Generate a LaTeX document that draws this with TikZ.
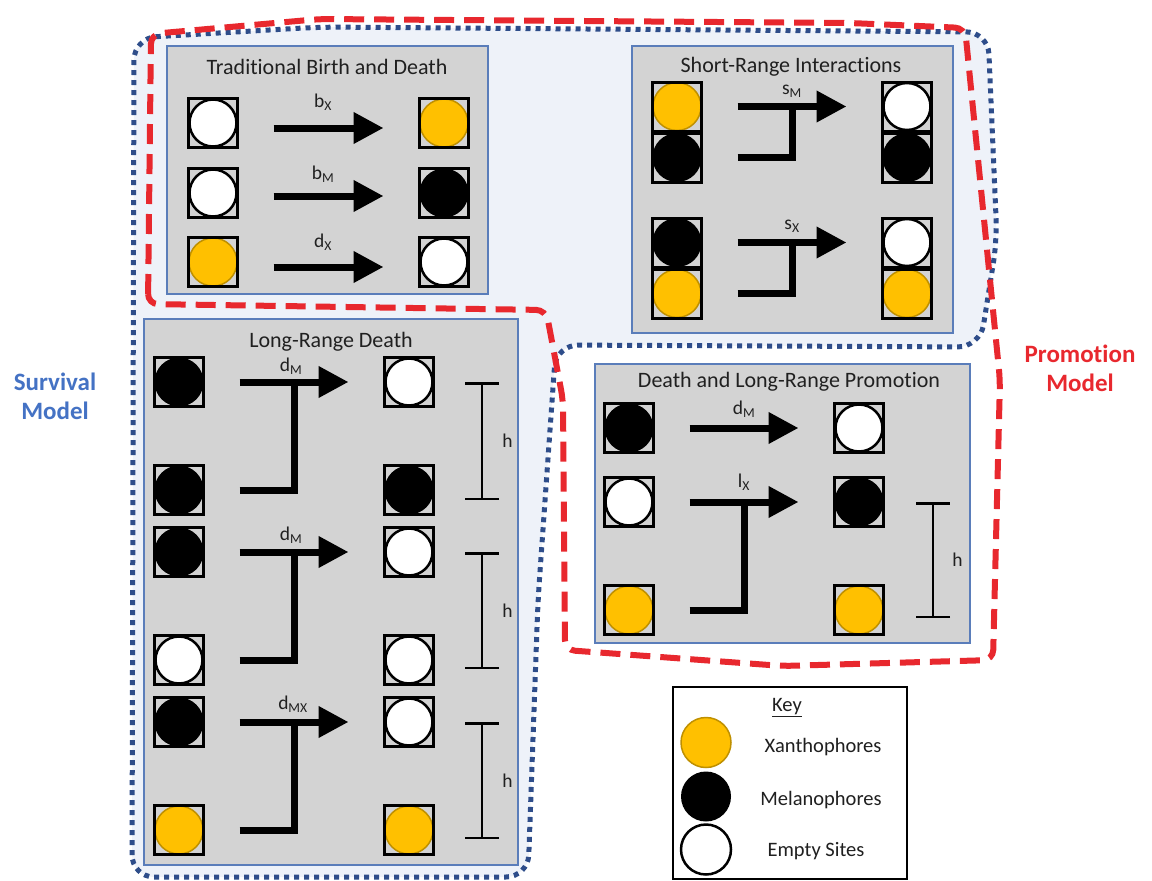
\documentclass[tikz,border=0pt]{standalone}
\usepackage{fontspec}
\setmainfont{Carlito}[Ligatures=CommonOff]
\usetikzlibrary{arrows.meta}

\definecolor{panelgray}{HTML}{D3D3D3}
\definecolor{panelblue}{HTML}{5A7DBA}
\definecolor{xanfill}{HTML}{FFC000}
\definecolor{xanedge}{HTML}{BF9000}
\definecolor{survblue}{HTML}{4472C4}
\definecolor{dotblue}{HTML}{2E4D8A}
\definecolor{promred}{HTML}{E8282E}
\definecolor{regionfill}{HTML}{EEF2F9}
\definecolor{inkgray}{HTML}{202020}

\tikzset{
  panel/.style={rectangle, draw=panelblue, line width=1.6pt, fill=panelgray, inner sep=0pt},
  ptitle/.style={font=\fontsize{22}{26}\selectfont, text=inkgray, inner sep=0pt},
  cell/.style={rectangle, draw=black, line width=3pt, fill=panelgray,
    minimum size=49pt, inner sep=0pt, outer sep=0pt},
  xan/.style={cell, path picture={\draw[fill=xanfill, draw=xanedge, line width=1.5pt]
    (path picture bounding box.center) circle[radius=24pt];}},
  mel/.style={cell, path picture={\fill[black]
    (path picture bounding box.center) circle[radius=24.5pt];}},
  emp/.style={cell, path picture={\draw[fill=white, draw=black, line width=2.5pt]
    (path picture bounding box.center) circle[radius=23.5pt];}},
  bigarrow/.style={line width=7pt, -{Triangle[length=30pt,width=30pt]}},
  elbow/.style={line width=7pt, line join=miter},
  hbar/.style={line width=2.5pt, {Bar[width=34pt]}-{Bar[width=34pt]}},
  rate/.style={font=\fontsize{19.5}{22}\selectfont, text=inkgray, inner sep=0pt},
  hlabel/.style={font=\fontsize{19.5}{22}\selectfont, text=inkgray, inner sep=0pt},
  keytext/.style={font=\fontsize{20.5}{24}\selectfont, text=inkgray, inner sep=0pt},
  keydot/.style={circle, minimum size=50pt, inner sep=0pt},
  modellabel/.style={font=\fontsize{25}{29}\selectfont\bfseries, align=center, inner sep=0pt},
  survline/.style={draw=dotblue, line width=5pt, dash pattern=on 5pt off 5pt},
  promline/.style={draw=promred, line width=6pt, dash pattern=on 20pt off 10pt},
}

\begin{document}
\begin{tikzpicture}[x=1pt,y=-1pt]
\useasboundingbox (0,0) rectangle (1152,881);

% survival model region
\path[fill=regionfill, rounded corners=22pt]
  (132,877) -- (134,38) -- (320,27) -- (988,32) -- (997,240) -- (980,347)
  -- (556,345) -- (538,600) -- (528,877) -- cycle;

% ---------- Traditional Birth and Death ----------
\node[panel, minimum width=321pt, minimum height=248pt] (pTBD) at (327.5,170) {};
\node[ptitle] at (327,67) {Traditional Birth and Death};
\node[emp] (t1a) at (213,123) {};
\node[xan] (t1b) at (444,123) {};
\node[emp] (t2a) at (213,193) {};
\node[mel] (t2b) at (444,193) {};
\node[xan] (t3a) at (213,262) {};
\node[emp] (t3b) at (444,262) {};
\draw[bigarrow] ([shift={(36pt,-5pt)}]t1a.east) -- ([shift={(-36pt,-5pt)}]t1b.west);
\draw[bigarrow] ([shift={(36pt,-3pt)}]t2a.east) -- ([shift={(-36pt,-3pt)}]t2b.west);
\draw[bigarrow] ([shift={(36pt,-5pt)}]t3a.east) -- ([shift={(-36pt,-5pt)}]t3b.west);
\node[rate] at (323,102) {b\textsubscript{X}};
\node[rate] at (323,174) {b\textsubscript{M}};
\node[rate] at (323,242) {d\textsubscript{X}};

% ---------- Short-Range Interactions ----------
\node[panel, minimum width=321pt, minimum height=287pt] (pSR) at (792.5,189.5) {};
\node[ptitle] at (791,67) {Short-Range Interactions};
\node[xan] (s1a) at (677,106.5) {};
\node[mel] (s1b) at (677,157.5) {};
\node[emp] (s1c) at (907,106.5) {};
\node[mel] (s1d) at (907,157.5) {};
\node[mel] (s2a) at (677,242.5) {};
\node[xan] (s2b) at (677,293.5) {};
\node[emp] (s2c) at (907,242.5) {};
\node[xan] (s2d) at (907,293.5) {};
\draw[bigarrow] ([xshift=36pt]s1a.east) coordinate (s1s) -- ([xshift=-36pt]s1c.west);
\draw[elbow] ([xshift=36pt]s1b.east) -| ([xshift=55pt]s1s);
\draw[bigarrow] ([xshift=36pt]s2a.east) coordinate (s2s) -- ([xshift=-36pt]s2c.west);
\draw[elbow] ([xshift=36pt]s2b.east) -| ([xshift=55pt]s2s);
\node[rate] at (792,91) {s\textsubscript{M}};
\node[rate] at (792,226) {s\textsubscript{X}};

% ---------- Long-Range Death ----------
\node[panel, minimum width=374pt, minimum height=546pt] (pLRD) at (331,592) {};
\node[ptitle] at (331,342) {Long-Range Death};
\node[mel] (l1a) at (179,382) {};
\node[mel] (l1b) at (179,490) {};
\node[emp] (r1a) at (409,382) {};
\node[mel] (r1b) at (409,490) {};
\node[mel] (l2a) at (179,552) {};
\node[emp] (l2b) at (179,660) {};
\node[emp] (r2a) at (409,552) {};
\node[emp] (r2b) at (409,660) {};
\node[mel] (l3a) at (179,722) {};
\node[xan] (l3b) at (179,830) {};
\node[emp] (r3a) at (409,722) {};
\node[xan] (r3b) at (409,830) {};
\draw[bigarrow] ([xshift=36pt]l1a.east) coordinate (g1s) -- ([xshift=-36pt]r1a.west);
\draw[elbow] ([xshift=36pt]l1b.east) -| ([xshift=55pt]g1s);
\draw[bigarrow] ([xshift=36pt]l2a.east) coordinate (g2s) -- ([xshift=-36pt]r2a.west);
\draw[elbow] ([xshift=36pt]l2b.east) -| ([xshift=55pt]g2s);
\draw[bigarrow] ([xshift=36pt]l3a.east) coordinate (g3s) -- ([xshift=-36pt]r3a.west);
\draw[elbow] ([xshift=36pt]l3b.east) -| ([xshift=55pt]g3s);
\node[rate] at (291,366) {d\textsubscript{M}};
\node[rate] at (291,535) {d\textsubscript{M}};
\node[rate] at (293,704) {d\textsubscript{MX}};
\draw[hbar] ([xshift=73pt]r1a.center) -- ([shift={(73pt,-10pt)}]r1b.center)
  node[hlabel, midway, right, xshift=19pt] {h};
\draw[hbar] ([xshift=73pt]r2a.center) -- ([shift={(73pt,-9pt)}]r2b.center)
  node[hlabel, midway, right, xshift=19pt] {h};
\draw[hbar] ([xshift=73pt]r3a.center) -- ([shift={(73pt,-9pt)}]r3b.center)
  node[hlabel, midway, right, xshift=19pt] {h};

% ---------- Death and Long-Range Promotion ----------
\node[panel, minimum width=375pt, minimum height=279pt] (pDLP) at (782.5,503.5) {};
\node[ptitle] at (789,382) {Death and Long-Range Promotion};
\node[mel] (p1a) at (629,428) {};
\node[emp] (p1b) at (859,428) {};
\node[emp] (p2a) at (629,502) {};
\node[mel] (p2b) at (859,502) {};
\node[xan] (p3a) at (629,610) {};
\node[xan] (p3b) at (859,610) {};
\draw[bigarrow] ([xshift=36pt]p1a.east) -- ([xshift=-36pt]p1b.west);
\draw[bigarrow] ([xshift=36pt]p2a.east) coordinate (q2s) -- ([xshift=-36pt]p2b.west);
\draw[elbow] ([xshift=36pt]p3a.east) -| ([xshift=55pt]q2s);
\node[rate] at (744,409) {d\textsubscript{M}};
\node[rate] at (744,482) {l\textsubscript{X}};
\draw[hbar] ([xshift=74pt]p2b.center) -- ([shift={(74pt,-8pt)}]p3b.center)
  node[hlabel, midway, right, xshift=18pt] {h};

% ---------- model outlines ----------
\draw[survline, rounded corners=22pt]
  (132,877) -- (134,38) -- (320,27) -- (988,32) -- (997,240) -- (980,347)
  -- (556,345) -- (538,600) -- (528,877) -- cycle;
\draw[promline, rounded corners=10pt]
  (148,304) -- (151,34) -- (320,19) -- (850,23) -- (965,28) -- (992,300)
  -- (1000,380) -- (993,660) -- (783,666) -- (565,650) -- (563,400)
  -- (546,310) -- cycle;

\node[modellabel, text=survblue] (survlbl) at (55,396) {Survival\\Model};
\node[modellabel, text=promred] (promlbl) at (1080,368) {Promotion\\Model};

% ---------- key ----------
\node[rectangle, draw=black, line width=2.5pt, fill=white, minimum width=234pt,
  minimum height=192pt, inner sep=0pt] (key) at (790,783) {};
\node[keytext] (keyttl) at (787,708) {\underline{Key}};
\node[keydot, fill=xanfill, draw=xanedge, line width=1.5pt] (kx) at (706,742.5) {};
\node[keydot, fill=black] (km) at (706,796.5) {};
\node[keydot, fill=white, draw=black, line width=2.5pt] (ke) at (706,849.5) {};
\node[keytext] (kxt) at (823,747) {Xanthophores};
\node[keytext] (kmt) at (821,800) {Melanophores};
\node[keytext] (ket) at (816,851) {Empty Sites};
\end{tikzpicture}
\end{document}
